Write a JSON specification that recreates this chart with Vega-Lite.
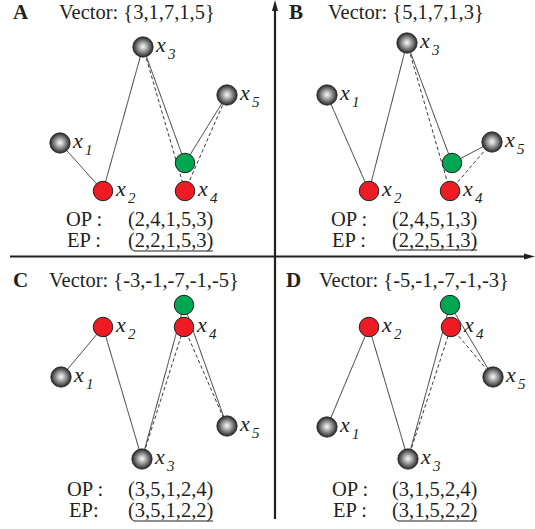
{
  "$schema": "https://vega.github.io/schema/vega-lite/v6.json",
  "width": 535,
  "height": 529,
  "autosize": {"type": "fit", "contains": "padding"},
  "padding": 0,
  "background": "white",
  "config": {"view": {"stroke": null}},
  "datasets": {
    "nodes": [
      {"p": "A", "n": "1", "x": 60, "y": 143, "k": "gray"},
      {"p": "A", "n": "2", "x": 103, "y": 191, "k": "red"},
      {"p": "A", "n": "3", "x": 143, "y": 47, "k": "gray"},
      {"p": "A", "n": "4", "x": 185, "y": 191, "k": "red"},
      {"p": "A", "n": "5", "x": 227, "y": 95, "k": "gray"},
      {"p": "A", "n": "", "x": 185, "y": 163, "k": "green"},
      {"p": "B", "n": "1", "x": 327, "y": 95, "k": "gray"},
      {"p": "B", "n": "2", "x": 369, "y": 191, "k": "red"},
      {"p": "B", "n": "3", "x": 407, "y": 43, "k": "gray"},
      {"p": "B", "n": "4", "x": 450, "y": 191, "k": "red"},
      {"p": "B", "n": "5", "x": 492, "y": 142, "k": "gray"},
      {"p": "B", "n": "", "x": 452, "y": 163, "k": "green"},
      {"p": "C", "n": "1", "x": 61, "y": 377, "k": "gray"},
      {"p": "C", "n": "2", "x": 103, "y": 327, "k": "red"},
      {"p": "C", "n": "3", "x": 142, "y": 459, "k": "gray"},
      {"p": "C", "n": "4", "x": 184, "y": 327, "k": "red"},
      {"p": "C", "n": "5", "x": 227, "y": 426, "k": "gray"},
      {"p": "C", "n": "", "x": 184, "y": 305, "k": "green"},
      {"p": "D", "n": "1", "x": 327, "y": 427, "k": "gray"},
      {"p": "D", "n": "2", "x": 369, "y": 327, "k": "red"},
      {"p": "D", "n": "3", "x": 408, "y": 459, "k": "gray"},
      {"p": "D", "n": "4", "x": 451, "y": 327, "k": "red"},
      {"p": "D", "n": "5", "x": 493, "y": 377, "k": "gray"},
      {"p": "D", "n": "", "x": 450, "y": 305, "k": "green"}
    ],
    "edges": [
      {"p": "A", "x": 60, "y": 143, "x2": 103, "y2": 191, "s": "solid"},
      {"p": "A", "x": 103, "y": 191, "x2": 143, "y2": 47, "s": "solid"},
      {"p": "A", "x": 143, "y": 47, "x2": 185, "y2": 163, "s": "solid"},
      {"p": "A", "x": 185, "y": 163, "x2": 227, "y2": 95, "s": "solid"},
      {"p": "A", "x": 143, "y": 47, "x2": 185, "y2": 191, "s": "dashed"},
      {"p": "A", "x": 185, "y": 191, "x2": 227, "y2": 95, "s": "dashed"},
      {"p": "B", "x": 327, "y": 95, "x2": 369, "y2": 191, "s": "solid"},
      {"p": "B", "x": 369, "y": 191, "x2": 407, "y2": 43, "s": "solid"},
      {"p": "B", "x": 407, "y": 43, "x2": 452, "y2": 163, "s": "solid"},
      {"p": "B", "x": 452, "y": 163, "x2": 492, "y2": 142, "s": "solid"},
      {"p": "B", "x": 407, "y": 43, "x2": 450, "y2": 191, "s": "dashed"},
      {"p": "B", "x": 450, "y": 191, "x2": 492, "y2": 142, "s": "dashed"},
      {"p": "C", "x": 61, "y": 377, "x2": 103, "y2": 327, "s": "solid"},
      {"p": "C", "x": 103, "y": 327, "x2": 142, "y2": 459, "s": "solid"},
      {"p": "C", "x": 142, "y": 459, "x2": 184, "y2": 305, "s": "solid"},
      {"p": "C", "x": 184, "y": 305, "x2": 227, "y2": 426, "s": "solid"},
      {"p": "C", "x": 142, "y": 459, "x2": 184, "y2": 327, "s": "dashed"},
      {"p": "C", "x": 184, "y": 327, "x2": 227, "y2": 426, "s": "dashed"},
      {"p": "D", "x": 327, "y": 427, "x2": 369, "y2": 327, "s": "solid"},
      {"p": "D", "x": 369, "y": 327, "x2": 408, "y2": 459, "s": "solid"},
      {"p": "D", "x": 408, "y": 459, "x2": 450, "y2": 305, "s": "solid"},
      {"p": "D", "x": 450, "y": 305, "x2": 493, "y2": 377, "s": "solid"},
      {"p": "D", "x": 408, "y": 459, "x2": 451, "y2": 327, "s": "dashed"},
      {"p": "D", "x": 451, "y": 327, "x2": 493, "y2": 377, "s": "dashed"}
    ],
    "letters": [
      {"x": 13, "y": 19, "t": "A"},
      {"x": 289, "y": 19, "t": "B"},
      {"x": 13, "y": 287, "t": "C"},
      {"x": 286, "y": 287, "t": "D"}
    ],
    "captions": [
      {"x": 59, "y": 19, "t": "Vector: {3,1,7,1,5}"},
      {"x": 66, "y": 226, "t": "OP :"},
      {"x": 128, "y": 226, "t": "(2,4,1,5,3)"},
      {"x": 67, "y": 247, "t": "EP :"},
      {"x": 128, "y": 247, "t": "(2,2,1,5,3)"},
      {"x": 328, "y": 19, "t": "Vector: {5,1,7,1,3}"},
      {"x": 331, "y": 226, "t": "OP :"},
      {"x": 392, "y": 226, "t": "(2,4,5,1,3)"},
      {"x": 332, "y": 247, "t": "EP :"},
      {"x": 392, "y": 247, "t": "(2,2,5,1,3)"},
      {"x": 49, "y": 287, "t": "Vector: {-3,-1,-7,-1,-5}"},
      {"x": 67, "y": 496, "t": "OP :"},
      {"x": 128, "y": 496, "t": "(3,5,1,2,4)"},
      {"x": 69, "y": 517, "t": "EP:"},
      {"x": 128, "y": 517, "t": "(3,5,1,2,2)"},
      {"x": 319, "y": 287, "t": "Vector: {-5,-1,-7,-1,-3}"},
      {"x": 332, "y": 496, "t": "OP :"},
      {"x": 392, "y": 496, "t": "(3,1,5,2,4)"},
      {"x": 333, "y": 517, "t": "EP :"},
      {"x": 392, "y": 517, "t": "(3,1,5,2,2)"}
    ],
    "underlines": [
      {"x": 134, "x2": 213, "y": 251},
      {"x": 398, "x2": 477, "y": 250},
      {"x": 134, "x2": 213, "y": 521},
      {"x": 398, "x2": 477, "y": 521}
    ],
    "axes": [
      {"x": 275, "y": 9, "x2": 275, "y2": 519},
      {"x": 10, "y": 256.5, "x2": 527, "y2": 256.5}
    ],
    "arrows": [
      {"x": 275, "y": 5.5, "d": "up"},
      {"x": 529.5, "y": 256.5, "d": "right"}
    ]
  },
  "layer": [
    {
      "data": {"name": "axes"},
      "mark": {"type": "rule", "color": "#231f20", "strokeWidth": 2.2},
      "encoding": {
        "x": {"field": "x", "type": "quantitative", "scale": {"domain": [0, 535], "nice": false, "zero": false}, "axis": null},
        "y": {"field": "y", "type": "quantitative", "scale": {"domain": [0, 529], "nice": false, "zero": false, "reverse": true}, "axis": null},
        "x2": {"field": "x2"},
        "y2": {"field": "y2"}
      }
    },
    {
      "data": {"name": "arrows"},
      "mark": {"type": "point", "filled": true, "opacity": 1, "color": "#231f20", "size": 121},
      "encoding": {
        "x": {"field": "x", "type": "quantitative"},
        "y": {"field": "y", "type": "quantitative"},
        "shape": {"field": "d", "type": "nominal", "legend": null,
          "scale": {"domain": ["up", "right"], "range": ["M0,-1L0.55,1L-0.55,1Z", "M1,0L-1,0.55L-1,-0.55Z"]}}
      }
    },
    {
      "data": {"name": "edges"},
      "mark": {"type": "rule", "color": "#231f20", "strokeWidth": 0.9},
      "encoding": {
        "x": {"field": "x", "type": "quantitative"},
        "y": {"field": "y", "type": "quantitative"},
        "x2": {"field": "x2"},
        "y2": {"field": "y2"},
        "strokeDash": {"field": "s", "type": "nominal", "legend": null,
          "scale": {"domain": ["solid", "dashed"], "range": [[1, 0], [3.5, 2.5]]}}
      }
    },
    {
      "data": {"name": "underlines"},
      "mark": {"type": "rule", "color": "#231f20", "strokeWidth": 1.2},
      "encoding": {
        "x": {"field": "x", "type": "quantitative"},
        "y": {"field": "y", "type": "quantitative"},
        "x2": {"field": "x2"}
      }
    },
    {
      "data": {"name": "nodes"},
      "transform": [{"filter": {"field": "k", "equal": "gray"}}],
      "mark": {
        "type": "point", "shape": "circle", "filled": true, "opacity": 1, "size": 415,
        "fill": {"gradient": "radial", "x1": 0.5, "y1": 0.48, "r1": 0, "x2": 0.5, "y2": 0.5, "r2": 0.5,
          "stops": [{"offset": 0, "color": "#ffffff"}, {"offset": 0.45, "color": "#a0a0a0"}, {"offset": 1, "color": "#262626"}]},
        "stroke": "#231f20", "strokeWidth": 0.8
      },
      "encoding": {
        "x": {"field": "x", "type": "quantitative"},
        "y": {"field": "y", "type": "quantitative"}
      }
    },
    {
      "data": {"name": "nodes"},
      "transform": [{"filter": {"field": "k", "oneOf": ["red", "green"]}}],
      "mark": {"type": "point", "shape": "circle", "filled": true, "opacity": 1, "size": 380, "stroke": "#231f20", "strokeWidth": 1},
      "encoding": {
        "x": {"field": "x", "type": "quantitative"},
        "y": {"field": "y", "type": "quantitative"},
        "fill": {"field": "k", "type": "nominal", "legend": null,
          "scale": {"domain": ["red", "green"], "range": ["#ed1c24", "#00a651"]}}
      }
    },
    {
      "data": {"name": "nodes"},
      "transform": [{"filter": {"field": "k", "oneOf": ["gray", "red"]}}],
      "mark": {"type": "text", "font": "Liberation Serif", "fontStyle": "italic", "fontSize": 22, "align": "left", "baseline": "alphabetic", "dx": 13, "dy": 5, "color": "#231f20"},
      "encoding": {
        "x": {"field": "x", "type": "quantitative"},
        "y": {"field": "y", "type": "quantitative"},
        "text": {"value": "x"}
      }
    },
    {
      "data": {"name": "nodes"},
      "transform": [{"filter": {"field": "k", "oneOf": ["gray", "red"]}}],
      "mark": {"type": "text", "font": "Liberation Serif", "fontStyle": "italic", "fontSize": 15, "align": "left", "baseline": "alphabetic", "dx": 25, "dy": 12, "color": "#231f20"},
      "encoding": {
        "x": {"field": "x", "type": "quantitative"},
        "y": {"field": "y", "type": "quantitative"},
        "text": {"field": "n", "type": "nominal"}
      }
    },
    {
      "data": {"name": "letters"},
      "mark": {"type": "text", "font": "Liberation Serif", "fontWeight": "bold", "fontSize": 21, "align": "left", "baseline": "alphabetic", "color": "#231f20"},
      "encoding": {
        "x": {"field": "x", "type": "quantitative"},
        "y": {"field": "y", "type": "quantitative"},
        "text": {"field": "t", "type": "nominal"}
      }
    },
    {
      "data": {"name": "captions"},
      "mark": {"type": "text", "font": "Liberation Serif", "fontSize": 20.5, "align": "left", "baseline": "alphabetic", "color": "#231f20"},
      "encoding": {
        "x": {"field": "x", "type": "quantitative"},
        "y": {"field": "y", "type": "quantitative"},
        "text": {"field": "t", "type": "nominal"}
      }
    }
  ]
}
